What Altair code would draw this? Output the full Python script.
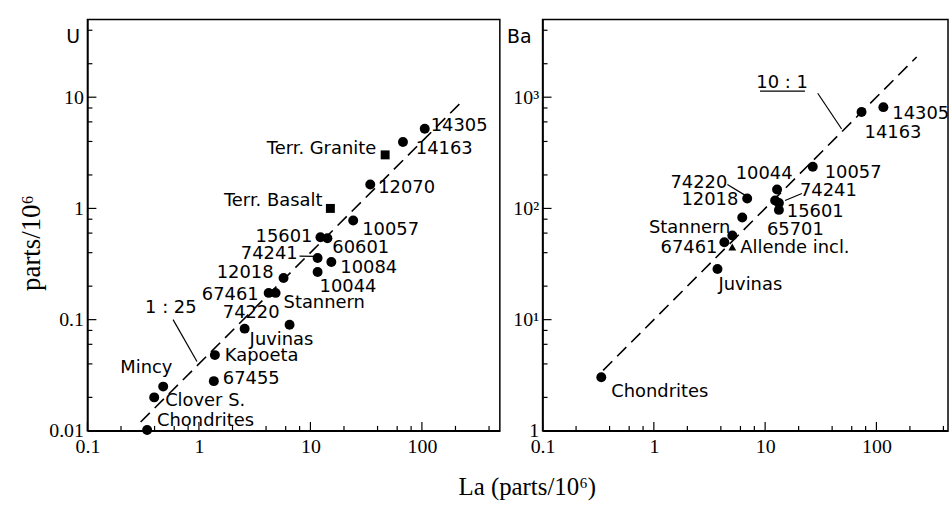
import altair as alt
import pandas as pd

# ---------------- data: U vs La (left panel) ----------------
u_names = ["14305", "14163", "Terr. Granite", "12070", "Terr. Basalt", "10057",
           "15601", "60601", "74241", "10084", "10044", "12018", "67461",
           "Stannern", "74220", "Juvinas", "Kapoeta", "67455", "Mincy",
           "Clover S.", "Chondrites"]
u_la = [106, 67.6, 46.8, 34.4, 15.1, 24.2, 12.3, 14.2, 11.6, 15.4, 11.6, 5.74,
        4.22, 4.87, 6.5, 2.57, 1.39, 1.36, 0.478, 0.397, 0.343]
u_u = [5.2, 3.96, 3.03, 1.64, 1.0, 0.78, 0.55, 0.54, 0.358, 0.33, 0.268, 0.237,
       0.174, 0.174, 0.090, 0.083, 0.048, 0.028, 0.025, 0.020, 0.0102]
u_kind = ["circle", "circle", "square", "circle", "square", "circle", "circle",
          "circle", "circle", "circle", "circle", "circle", "circle", "circle",
          "circle", "circle", "circle", "circle", "circle", "circle", "circle"]
u_align = ["left", "left", "right", "left", "right", "left", "right", "left",
           "right", "left", "left", "right", "right", "left", "right", "left",
           "left", "left", "center", "left", "left"]
u_dx = [6, 13, -9, 8, -8, 9, -8, 5, -20, 9, 2, -10, -10, 8, -10, 5, 10, 9, -17, 11, 10]
u_dy = [-3, 7, -6, 4, -7, 10, 0, 10, -4, 6, 15, -5, 2, 10, -12, 11, 1, -2, -19, 4, -9]

# ---------------- data: Ba vs La (right panel) ----------------
b_names = ["14305", "14163", "10057", "10044", "74241", "15601", "65701",
           "74220", "12018", "Stannern", "67461", "Allende incl.", "Juvinas",
           "Chondrites"]
b_la = [115.5, 73.5, 26.8, 12.8, 12.3, 13.3, 13.3, 6.9, 6.23, 5.07, 4.3, 5.07,
        3.73, 0.337]
b_ba = [814, 735, 237, 148, 118, 112, 97, 123, 83, 57, 49.7, 45, 28.5, 3.03]
b_kind = ["circle"] * 11 + ["triangle-up", "circle", "circle"]
b_align = ["left", "left", "left", "center", "left", "left", "left", "right",
           "right", "right", "right", "left", "left", "left"]
b_dx = [9, 3, 12, -13, 25, 8, -12, -20, -4, -2, -7, 8, 1, 10]
b_dy = [7, 21, 6, -16, -9, 9, 20, -15, -17, -8, 6, 1, 16, 15]

# reference lines (ratio annotations)
u_ratio = 1 / 25.0
u_line_la = [0.3, 230]
b_ratio = 10.0
b_line_la = [0.35, 230]

# annotation text and leader segments (data coordinates)
u_note = {"text": "1 : 25", "la": 0.56, "v": 0.128}
u_lead_x1 = [0.586, 7.98]
u_lead_y1 = [0.1, 0.372]
u_lead_x2 = [0.96, 10.9]
u_lead_y2 = [0.042, 0.37]

b_note = {"text": "10 : 1", "la": 14.2, "v": 1334}
b_lead_x1 = [29.7, 15.1, 4.58, 9.0]
b_lead_y1 = [1086, 118, 164, 1132]
b_lead_x2 = [48.7, 21.4, 6.63, 22.8]
b_lead_y2 = [518, 136, 131, 1132]

# ticks
x_major = [0.1, 1, 10, 100]
x_minor_all = [m * d for d in (0.1, 1, 10, 100) for m in (2, 4, 6, 8)]
u_major = [0.01, 0.1, 1, 10]
u_minor = [m * d for d in (0.01, 0.1, 1, 10) for m in (2, 4, 6, 8) if m * d < 50]
b_major = [1, 10, 100, 1000]
b_minor = [m * d for d in (1, 10, 100, 1000) for m in (2, 4, 6, 8) if m * d < 5000]

SERIF = "Liberation Serif"
SANS = "DejaVu Sans"
H = 414


def panel(names, la, val, kind, align, dx, dy, xdom, ydom, width,
          line_la, ratio, note, lx1, ly1, lx2, ly2, xmin, xmaj, ymin, ymaj,
          ytitle, title_x, y_label_expr):
    xs = alt.Scale(type="log", domain=xdom, nice=False)
    ys = alt.Scale(type="log", domain=ydom, nice=False)
    xaxis = alt.Axis(values=xmaj, labelExpr="toString(datum.value)", ticks=False,
                     grid=False, title=None, labelFont=SERIF, labelFontSize=20,
                     labelPadding=6, labelColor="black", domainColor="black",
                     domainWidth=1.5, labelFlush=False)
    yaxis = alt.Axis(values=ymaj, labelExpr=y_label_expr, ticks=False, grid=False,
                     title=ytitle, titleAngle=0, titleX=title_x, titleY=17,
                     titleAlign="center", titleBaseline="middle", titleFont=SANS,
                     titleFontSize=19, titleFontWeight="normal", titleColor="black",
                     labelFont=SERIF, labelFontSize=20, labelPadding=4,
                     labelColor="black", domainColor="black", domainWidth=1.5,
                     labelFlush=False)

    df = pd.DataFrame({"name": names, "la": la, "v": val, "kind": kind,
                       "align": align, "dx": dx, "dy": dy})
    base = alt.Chart(df)

    kinds = ["circle", "square", "triangle-up"]
    pts = base.mark_point(filled=True, opacity=1, color="black").encode(
        x=alt.X("la:Q", scale=xs, axis=xaxis),
        y=alt.Y("v:Q", scale=ys, axis=yaxis),
        shape=alt.Shape("kind:N", scale=alt.Scale(domain=kinds, range=kinds),
                        legend=None),
        size=alt.Size("kind:N", scale=alt.Scale(domain=kinds, range=[100, 62, 80]),
                      legend=None),
    )

    layers = []
    for _, r in df.iterrows():
        layers.append(
            alt.Chart(pd.DataFrame([r])).mark_text(
                align=r["align"], baseline="middle", dx=int(r["dx"]),
                dy=int(r["dy"]), font=SANS, fontSize=18, color="black"
            ).encode(x=alt.X("la:Q", scale=xs), y=alt.Y("v:Q", scale=ys),
                     text="name:N")
        )

    ldf = pd.DataFrame({"la": [line_la[0]], "la2": [line_la[1]],
                        "v": [line_la[0] * ratio], "v2": [line_la[1] * ratio]})
    ratio_line = alt.Chart(ldf).mark_rule(
        color="black", strokeWidth=1.6, strokeDash=[13, 7]
    ).encode(x=alt.X("la:Q", scale=xs), x2="la2:Q",
             y=alt.Y("v:Q", scale=ys), y2="v2:Q")

    leads = alt.Chart(pd.DataFrame({"x1": lx1, "y1": ly1, "x2": lx2, "y2": ly2})
                      ).mark_rule(color="black", strokeWidth=1.2).encode(
        x=alt.X("x1:Q", scale=xs), x2="x2:Q",
        y=alt.Y("y1:Q", scale=ys), y2="y2:Q")

    note_t = alt.Chart(pd.DataFrame({"t": [note["text"]], "la": [note["la"]],
                                     "v": [note["v"]]})).mark_text(
        font=SANS, fontSize=18, color="black", align="center", baseline="middle"
    ).encode(x=alt.X("la:Q", scale=xs), y=alt.Y("v:Q", scale=ys), text="t:N")

    xt_maj = alt.Chart(pd.DataFrame({"t": xmaj})).mark_rule(
        color="black", strokeWidth=1.2).encode(
        x=alt.X("t:Q", scale=xs), y=alt.value(H), y2=alt.value(H - 9))
    xt_min = alt.Chart(pd.DataFrame({"t": xmin})).mark_rule(
        color="black", strokeWidth=1.2).encode(
        x=alt.X("t:Q", scale=xs), y=alt.value(H), y2=alt.value(H - 5))
    yt_maj = alt.Chart(pd.DataFrame({"t": ymaj})).mark_rule(
        color="black", strokeWidth=1.2).encode(
        y=alt.Y("t:Q", scale=ys), x=alt.value(0), x2=alt.value(9))
    yt_min = alt.Chart(pd.DataFrame({"t": ymin})).mark_rule(
        color="black", strokeWidth=1.2).encode(
        y=alt.Y("t:Q", scale=ys), x=alt.value(0), x2=alt.value(5))

    return alt.layer(pts, ratio_line, leads, note_t, xt_maj, xt_min, yt_maj,
                     yt_min, *layers).properties(width=width, height=H)


left = panel(u_names, u_la, u_u, u_kind, u_align, u_dx, u_dy, [0.1, 500],
             [0.01, 50], 415, u_line_la, u_ratio, u_note, u_lead_x1, u_lead_y1,
             u_lead_x2, u_lead_y2, [t for t in x_minor_all if t < 500], x_major,
             u_minor, u_major, "U", -15, "toString(datum.value)")
left = left.properties(title=alt.TitleParams(
    text="parts/10⁶", orient="left", anchor="middle", font=SERIF, fontSize=27,
    fontWeight="normal", color="black", offset=3, dx=-18))

b_expr = ("datum.value == 1 ? '1' : datum.value == 10 ? '10¹' : "
          "datum.value == 100 ? '10²' : '10³'")
right = panel(b_names, b_la, b_ba, b_kind, b_align, b_dx, b_dy, [0.1, 440],
              [1, 5000], 408, b_line_la, b_ratio, b_note, b_lead_x1, b_lead_y1,
              b_lead_x2, b_lead_y2, [t for t in x_minor_all if t < 440], x_major,
              b_minor, b_major, "Ba", -24, b_expr)

chart = alt.hconcat(left, right, spacing=4).properties(
    title=alt.TitleParams(text="La (parts/10⁶)", orient="bottom", anchor="middle",
                          font=SERIF, fontSize=25, fontWeight="normal",
                          color="black", offset=18, dx=44),
    padding={"left": 17, "top": 17, "right": 0, "bottom": 0},
).configure(background="white").configure_view(stroke="black", strokeWidth=1.5)

chart.save("out.html", embed_options={"renderer": "svg", "actions": False})
